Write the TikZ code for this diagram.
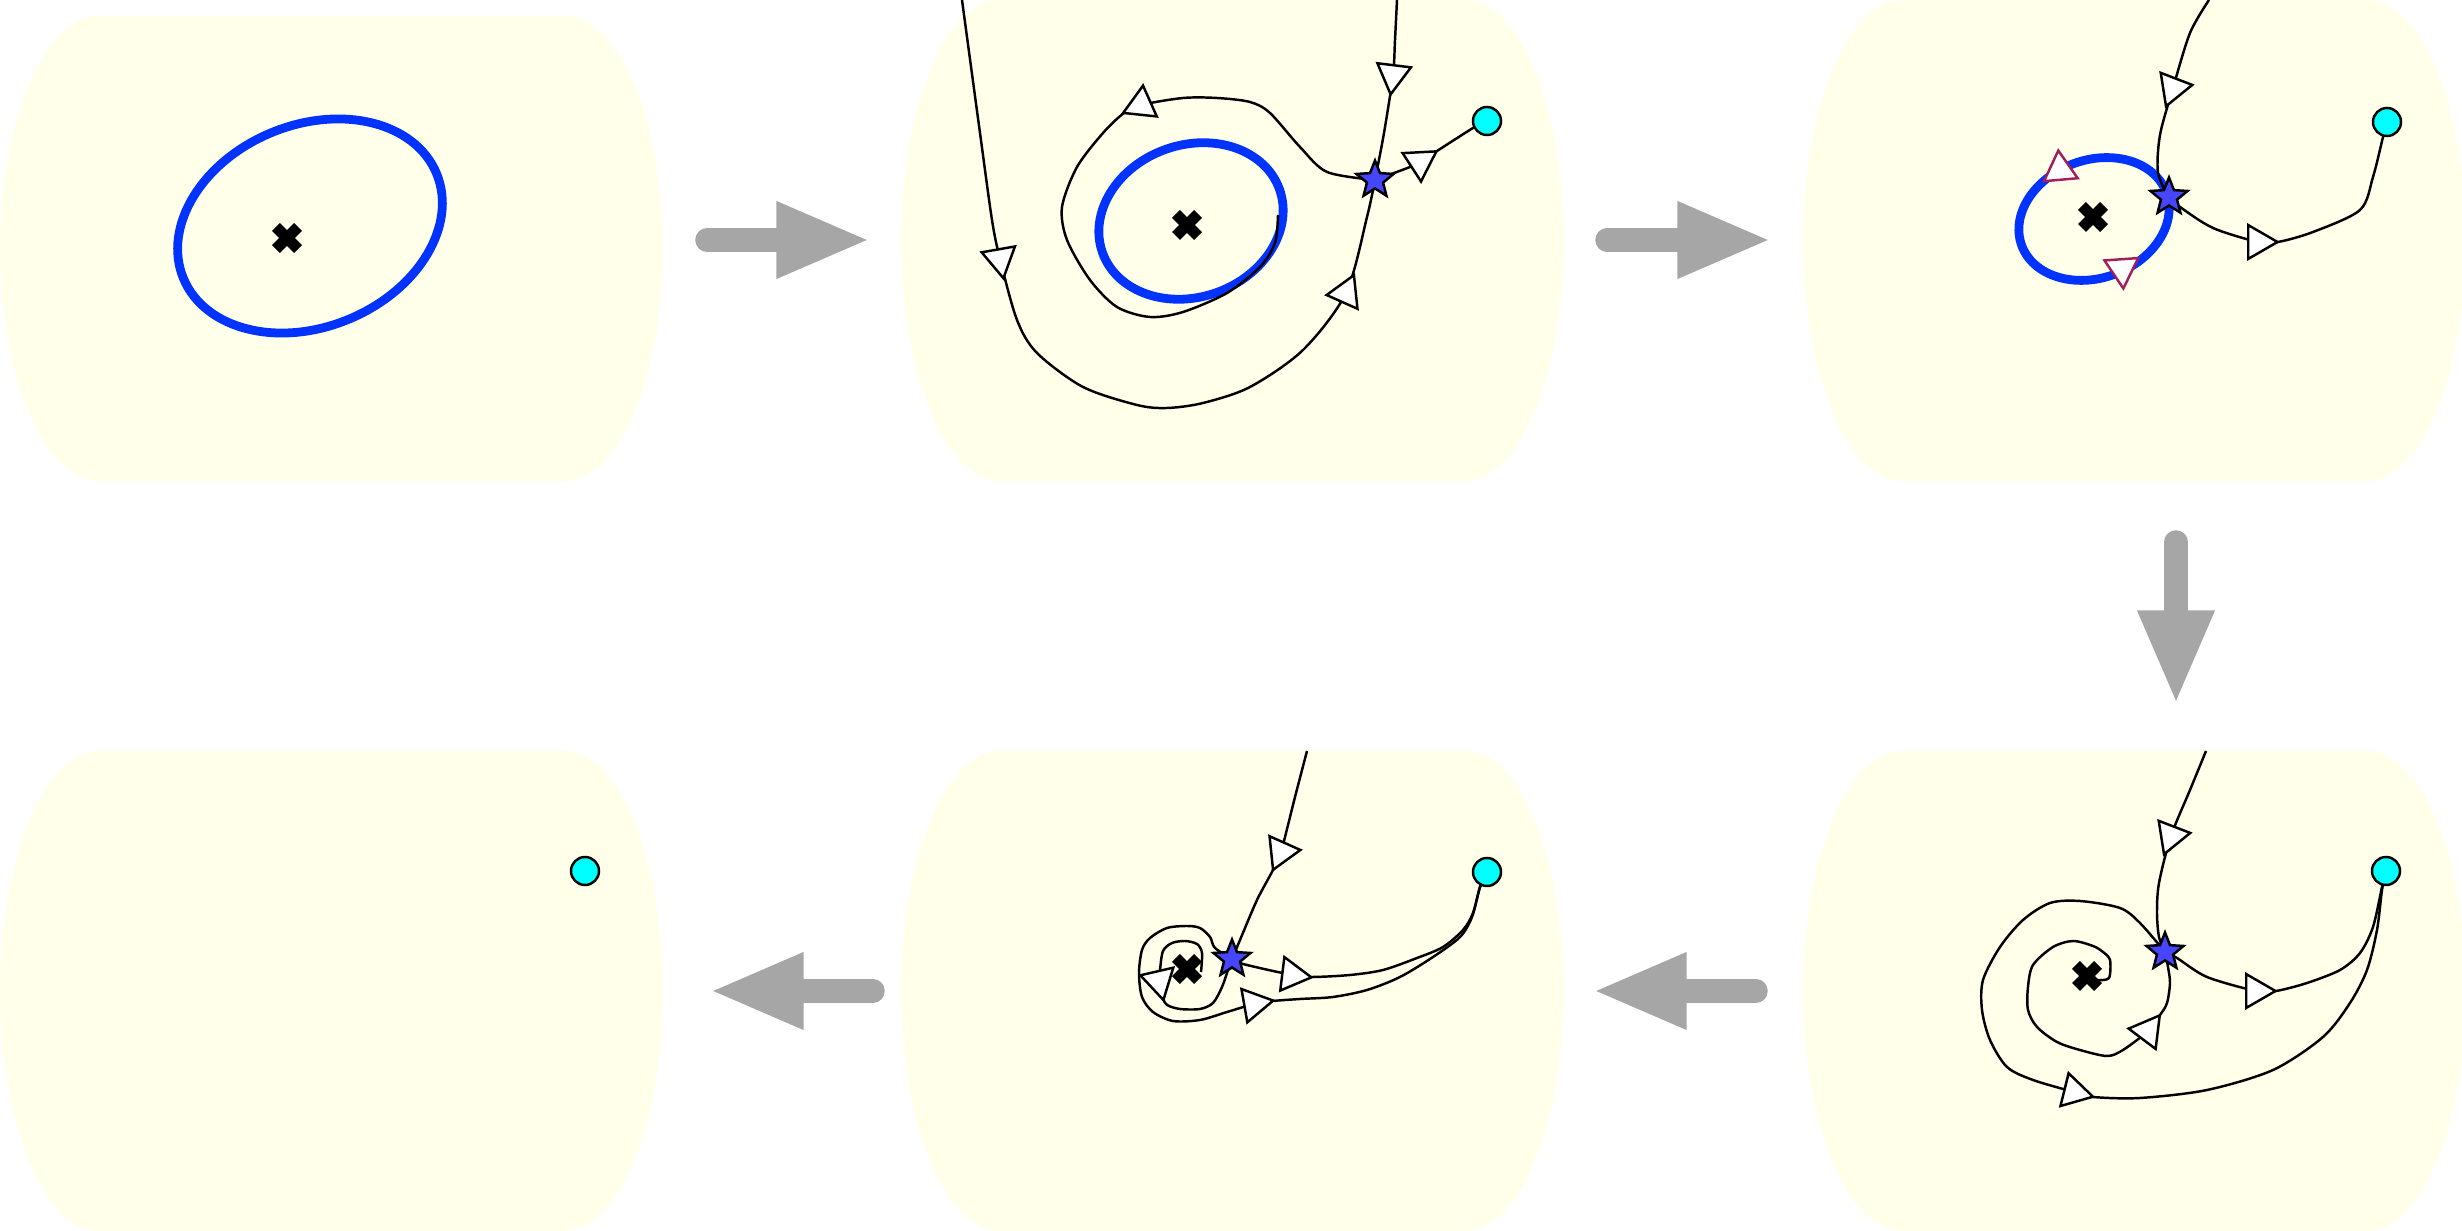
\documentclass[tikz,border=0pt]{standalone}
\usepackage{tikz}
\usetikzlibrary{arrows.meta,shapes.geometric,shapes.misc}
\pgfdeclarelayer{back}
\pgfdeclarelayer{mid}
\pgfsetlayers{back,mid,main}
\definecolor{panelbg}{RGB}{255,255,234}
\definecolor{loopblue}{RGB}{0,51,255}
\definecolor{starblue}{RGB}{70,70,255}
\definecolor{dotcyan}{RGB}{0,255,255}
\definecolor{stepgray}{RGB}{166,166,166}
\definecolor{markred}{RGB}{160,30,90}

\begin{document}
\begin{tikzpicture}[x=0.01cm,y=-0.01cm,
  panel/.style={fill=panelbg},
  orbit/.style={draw=loopblue,line width=2.5pt},
  traj/.style={draw=black,line width=0.7pt,line join=round},
  stagearrow/.style={draw=stepgray,line width=0.235cm,line cap=round,-{Triangle[length=0.945cm,width=0.7cm]}},
  mk/.style={regular polygon,regular polygon sides=3,draw=black,fill=white,line width=0.7pt,inner sep=0pt,minimum size=0.39cm},
  mkred/.style={mk,draw=markred},
  fixpt/.style={star,star points=5,star point ratio=2.3,draw=black,fill=starblue,line width=0.7pt,inner sep=0pt,minimum size=0.39cm},
  sink/.style={circle,draw=black,fill=dotcyan,line width=0.7pt,inner sep=0pt,minimum size=0.28cm},
  pole/.style={cross out,draw=black,line width=3.2pt,inner sep=0pt,outer sep=0pt,minimum size=0.22cm}]
  \useasboundingbox (0,0) rectangle (2462,1231);

  \coordinate (t12) at (707,240);  \coordinate (h12) at (871,240);
  \coordinate (t23) at (1607,240); \coordinate (h23) at (1772,240);
  \coordinate (t34) at (2176,542); \coordinate (h34) at (2176,705);
  \coordinate (t45) at (1756,991); \coordinate (h45) at (1592,991);
  \coordinate (t56) at (873,991);  \coordinate (h56) at (709,991);

  \begin{pgfonlayer}{back}
    \foreach \px/\pt/\pb in {0/16/481,901/0/481,1803/0/481,0/751/1231,901/751/1231,1803/751/1231}{
      \fill[panel] (\px+99,\pt) rectangle (\px+564,\pb);
      \fill[panel] (\px+99,{(\pt+\pb)/2}) ellipse [x radius=99,y radius={(\pb-\pt)/2}];
      \fill[panel] (\px+564,{(\pt+\pb)/2}) ellipse [x radius=99,y radius={(\pb-\pt)/2}];
    }
    \draw[orbit,rotate around={22.5:(310,226)}] (310,226) ellipse [x radius=137,y radius=101];
    \draw[orbit,rotate around={19.7:(1191,221)}] (1191,221) ellipse [x radius=94,y radius=76];
    \draw[orbit,rotate around={20:(2094,219)}] (2094,219) ellipse [x radius=77,y radius=59];
    \foreach \a/\b in {t12/h12,t23/h23,t34/h34,t45/h45,t56/h56}
      \draw[stagearrow] (\a) -- (\b);
  \end{pgfonlayer}

  \node[pole] (x1) at (287,238) {};

  \node[pole] (x2) at (1187,225) {};
  \node[fixpt] (s2) at (1375,180) {};
  \node[sink] (c2) at (1487,121) {};
  \coordinate (e2a) at (962,0);
  \coordinate (e2b) at (1397,0);
  \coordinate (e2c) at (1278,215);
  \node[mk,rotate=-170] (m2a) at (1000,259) {};
  \node[mk,rotate=-24] (m2b) at (1346,293) {};
  \node[mk,rotate=173] (m2c) at (1393,75) {};
  \node[mk,rotate=-177] (m2d) at (1420,162) {};
  \node[mk,rotate=-6] (m2e) at (1141,105) {};

  \node[pole] (x3) at (2093,217) {};
  \node[fixpt] (s3) at (2169,197) {};
  \node[sink] (c3) at (2387,122) {};
  \coordinate (e3a) at (2209,0);
  \node[mk,rotate=159] (m3a) at (2173,88) {};
  \node[mk,rotate=-90] (m3b) at (2258,242) {};
  \node[mkred,rotate=5] (p3a) at (2060,170) {};
  \node[mkred,rotate=-176] (p3b) at (2122,269) {};

  \node[pole] (x4) at (2087,976) {};
  \node[fixpt] (s4) at (2165,952) {};
  \node[sink] (c4) at (2386,871) {};
  \coordinate (e4a) at (2206,751);
  \coordinate (e4b) at (2098,980);
  \node[mk,rotate=159] (m4a) at (2171,836) {};
  \node[mk,rotate=-90] (m4b) at (2256,991) {};
  \node[mk,rotate=-104] (m4c) at (2074,1092) {};
  \node[mk,rotate=-37] (m4d) at (2148,1031) {};

  \node[pole] (x5) at (1187,969) {};
  \node[fixpt] (s5) at (1232,959) {};
  \node[sink] (c5) at (1487,872) {};
  \coordinate (e5a) at (1307,751);
  \coordinate (e5b) at (1201,972);
  \node[mk,rotate=156] (m5a) at (1281,852) {};
  \node[mk,rotate=-97] (m5b) at (1292,975) {};
  \node[mk,rotate=-80] (m5c) at (1254,1004) {};
  \node[mk,rotate=-167] (m5d) at (1159,981) {};

  \node[sink] (c6) at (585,871) {};

  \begin{pgfonlayer}{mid}
    \draw[traj] plot[smooth] coordinates {(e2a) (980,133) (992,220) (m2a.center) (1017,320) (1037,353) (1083,387) (1137,405) (1167,408) (1203,403) (1250,387) (1303,350) (m2b.center) (1367,217) (s2.center)};
    \draw[traj] plot[smooth] coordinates {(e2b) (1395,40) (m2c.center) (1384,133) (s2.center)};
    \draw[traj] plot[smooth] coordinates {(s2.center) (1410,167) (m2d.center) (1437,151) (1473,128) (c2.center)};
    \draw[traj] plot[smooth] coordinates {(s2.center) (1327,172) (1300,147) (1270,113) (1250,102) (1217,98) (1183,98) (m2e.center) (1124,113) (1103,133) (1077,167) (1062,207) (1067,240) (1090,280) (1117,307) (1150,317) (1183,312) (1227,293) (1260,267) (1275,243) (e2c)};

    \draw[traj] plot[smooth] coordinates {(e3a) (2190,33) (m3a.center) (2160,135) (2158,173) (s3.center)};
    \draw[traj] plot[smooth] coordinates {(s3.center) (2180,207) (2213,228) (m3b.center) (2278,242) (2313,232) (2360,210) (2373,177) (2383,137) (c3.center)};

    \draw[traj] plot[smooth] coordinates {(e4a) (2190,790) (m4a.center) (2159,883) (2157,913) (2159,937) (s4.center)};
    \draw[traj] plot[smooth] coordinates {(s4.center) (2177,958) (2207,977) (m4b.center) (2276,991) (2307,983) (2340,970) (2360,953) (2373,927) (2382,887) (c4.center)};
    \draw[traj] plot[smooth] coordinates {(s4.center) (2140,923) (2120,908) (2080,901) (2050,903) (2023,920) (2000,947) (1983,980) (1982,1010) (1990,1040) (2007,1067) (2033,1080) (m4c.center) (2093,1097) (2140,1098) (2207,1090) (2273,1070) (2323,1037) (2350,1003) (2367,970) (2377,930) (2382,890) (c4.center)};
    \draw[traj] plot[smooth] coordinates {(e4b) (2109,978) (2110,960) (2103,952) (2093,946) (2073,941) (2053,947) (2033,965) (2028,987) (2028,1010) (2037,1027) (2057,1042) (2080,1050) (2107,1056) (2123,1050) (m4d.center) (2160,1015) (2167,1003) (2170,983) (2168,967) (s4.center)};

    \draw[traj] plot[smooth] coordinates {(e5a) (1295,797) (m5a.center) (1273,870) (1257,900) (1240,940) (s5.center)};
    \draw[traj] plot[smooth] coordinates {(s5.center) (1243,964) (m5b.center) (1312,977) (1350,975) (1383,970) (1417,958) (1443,947) (1463,930) (1473,913) (1480,887) (c5.center)};
    \draw[traj] plot[smooth] coordinates {(s5.center) (1215,948) (1210,937) (1200,928) (1187,926) (1167,928) (1150,938) (1142,950) (1139,973) (1142,997) (1153,1012) (1173,1021) (1200,1020) (1227,1012) (m5c.center) (1273,1001) (1300,999) (1333,997) (1367,990) (1400,977) (1433,957) (1460,937) (1472,917) (1480,887) (c5.center)};
    \draw[traj] plot[smooth] coordinates {(e5b) (1202,953) (1197,944) (1185,941) (1172,943) (1163,951) (1160,970) (m5d.center) (1163,998) (1167,1005) (1180,1009) (1200,1009) (1213,1003) (1222,987) (1228,970) (s5.center)};
  \end{pgfonlayer}
\end{tikzpicture}
\end{document}
